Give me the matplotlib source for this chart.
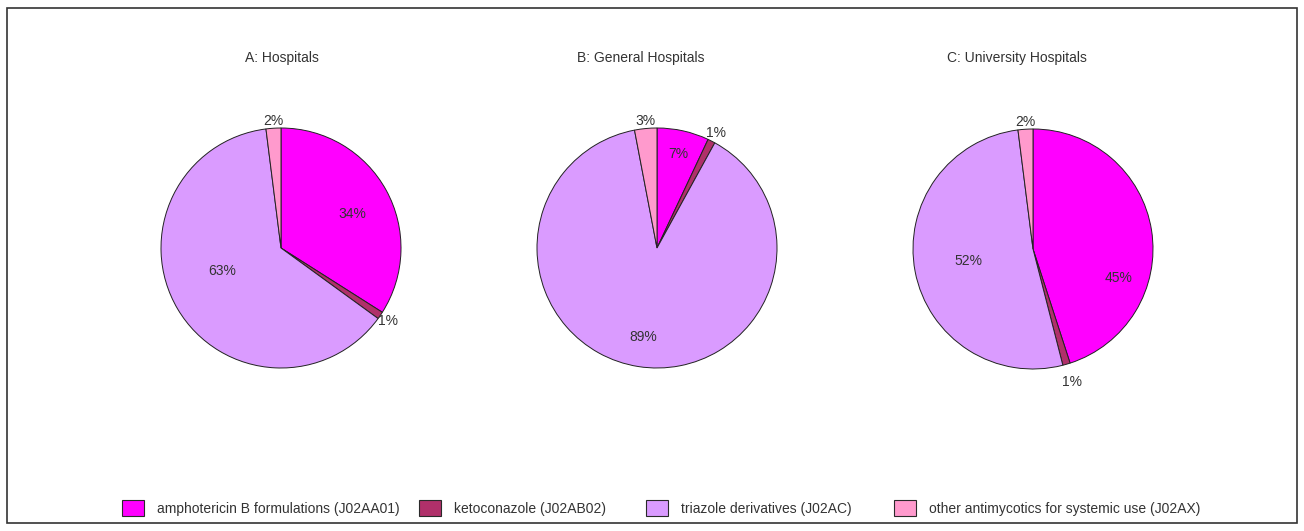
import numpy as np
import matplotlib
matplotlib.use("Agg")
import matplotlib.pyplot as plt
from matplotlib.patches import Patch, Rectangle

plt.rcParams["font.family"] = ["Liberation Sans", "DejaVu Sans"]
plt.rcParams["font.size"] = 10

# Data
categories = [
    "amphotericin B formulations (J02AA01)",
    "ketoconazole (J02AB02)",
    "triazole derivatives (J02AC)",
    "other antimycotics for systemic use (J02AX)",
]
titles = ["A: Hospitals", "B: General Hospitals", "C: University Hospitals"]
hospitals = [34, 1, 63, 2]
general_hospitals = [7, 1, 89, 3]
university_hospitals = [45, 1, 52, 2]

colors = ["#ff00ff", "#b0306a", "#da9bff", "#ff9acd"]
text_color = "#333333"

W, H = 1304, 531
fig = plt.figure(figsize=(W / 100, H / 100), dpi=100)

# layout in pixels: pie centre x, centre y, radius, title centre x
centres = [(281, 248), (657, 248), (1033, 249)]
radius = 120
title_x = [282, 641, 1017]
# label distance (in radii) and angle shift (deg) per slice
label_dist = [
    [0.66, 1.08, 0.53, 1.06],
    [0.80, 1.08, 0.75, 1.06],
    [0.75, 1.15, 0.55, 1.06],
]
label_shift = [
    [3, 0, 9, 0],
    [0, 0, 0, 0],
    [28, 0, 0, 0],
]

for i, vals in enumerate([hospitals, general_hospitals, university_hospitals]):
    cx, cy = centres[i]
    ax = fig.add_axes([(cx - radius) / W, (H - cy - radius) / H,
                       2 * radius / W, 2 * radius / H])
    wedges, _ = ax.pie(vals, colors=colors, startangle=90, counterclock=False,
                       radius=1, wedgeprops=dict(edgecolor="#222222", linewidth=0.7))
    ax.set_xlim(-1, 1)
    ax.set_ylim(-1, 1)
    ax.axis("off")
    for j, w in enumerate(wedges):
        mid = np.deg2rad((w.theta1 + w.theta2) / 2 - label_shift[i][j])
        d = label_dist[i][j]
        ax.text(d * np.cos(mid), d * np.sin(mid), f"{vals[j]}%",
                ha="center", va="center", color=text_color, fontsize=10, clip_on=False)
    fig.text(title_x[i] / W, 1 - 58 / H, titles[i], ha="center", va="center",
             color=text_color, fontsize=10)

# legend entries at fixed positions
legend_x = [122, 419, 646, 894]
for k, lab in enumerate(categories):
    handle = Patch(facecolor=colors[k], edgecolor="#2a2a2a", linewidth=0.8)
    leg = fig.legend(handles=[handle], labels=[lab], loc="center left",
                     bbox_to_anchor=(legend_x[k] / W, 1 - 508 / H),
                     frameon=False, borderpad=0, borderaxespad=0,
                     handlelength=1.6, handleheight=1.3, handletextpad=0.95,
                     fontsize=10)
    for t in leg.get_texts():
        t.set_color(text_color)

# outer border
fig.patches.append(Rectangle((7 / W, 1 - 523 / H), 1290 / W, 515 / H,
                             transform=fig.transFigure, fill=False,
                             edgecolor="#333333", linewidth=1.2))

fig.savefig("out.png", dpi=100)
